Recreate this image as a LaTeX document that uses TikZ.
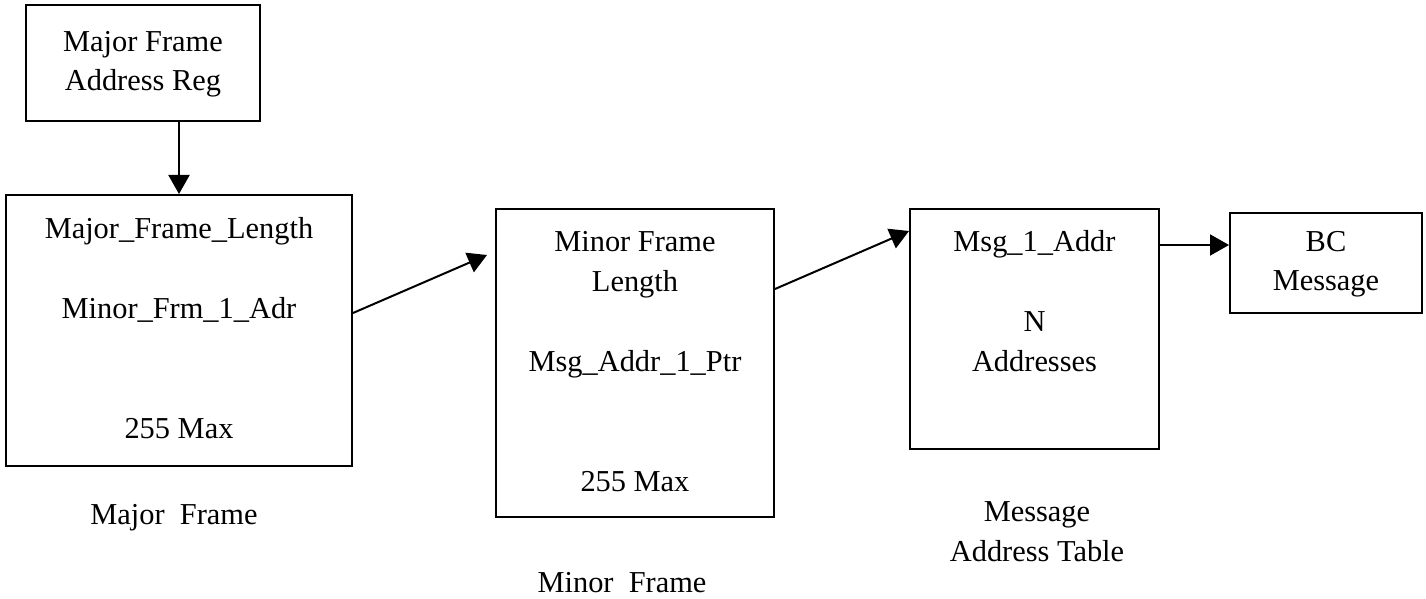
\documentclass[tikz,border=0pt]{standalone}
\usepackage{fontspec}
\setmainfont{Liberation Serif}
\usetikzlibrary{arrows.meta}
\newcommand\rowtxt[1]{\strut#1}
\tikzset{
  boxsty/.style={draw, line width=1pt, align=center, inner sep=0pt},
  lblsty/.style={align=center, inner sep=0pt},
  arrsty/.style={line width=1pt, -{Triangle[length=9.5pt,width=10.5pt]}},
}
\begin{document}
\begin{tikzpicture}[x=0.5pt, y=-0.5pt, font=\fontsize{15.2pt}{20pt}\selectfont]
\useasboundingbox (0,0) rectangle (1426,599);
% boxes
\node[boxsty, minimum width=117pt, minimum height=58pt] (b1) at (143,63)
  {\rowtxt{Major Frame}\\\rowtxt{Address Reg}};
\node[boxsty, minimum width=173pt, minimum height=135.5pt] (b2) at (179,330.5)
  {\rowtxt{Major\_Frame\_Length}\\\rowtxt{}\\\rowtxt{Minor\_Frm\_1\_Adr}\\\rowtxt{}\\\rowtxt{}\\\rowtxt{255 Max}};
\node[boxsty, minimum width=139pt, minimum height=154pt] (b3) at (635,363)
  {\rowtxt{Minor Frame}\\\rowtxt{Length}\\\rowtxt{}\\\rowtxt{Msg\_Addr\_1\_Ptr}\\\rowtxt{}\\\rowtxt{}\\\rowtxt{255 Max}};
\node[boxsty, minimum width=124.5pt, minimum height=120pt] (b4) at (1034.5,329)
  {\rowtxt{Msg\_1\_Addr}\\\rowtxt{}\\\rowtxt{N}\\\rowtxt{Addresses}\\[6pt]\rowtxt{}};
\node[boxsty, minimum width=96pt, minimum height=49.5pt] (b5) at (1326,263)
  {\rowtxt{BC}\\\rowtxt{Message}};
% captions
\node[lblsty] (l2) at (174,518) {Major\ \ Frame};
\node[lblsty] (l3) at (622,583) {Minor\ \ Frame};
\node[lblsty] (l4) at (1037,533) {\rowtxt{Message}\\\rowtxt{Address Table}};
% connectors
\draw[arrsty] (b1.south -| b2.north) -- (b2.north);
\coordinate (a2end) at (487,255);
\draw[arrsty] ([yshift=8.75pt]b2.east) -- (a2end);
\draw[arrsty] ([yshift=37pt]b3.east) -- ([yshift=49pt]b4.west);
\coordinate (p4) at ([yshift=42pt]b4.east);
\draw[arrsty] (p4) -- (p4 -| b5.west);
\end{tikzpicture}
\end{document}
